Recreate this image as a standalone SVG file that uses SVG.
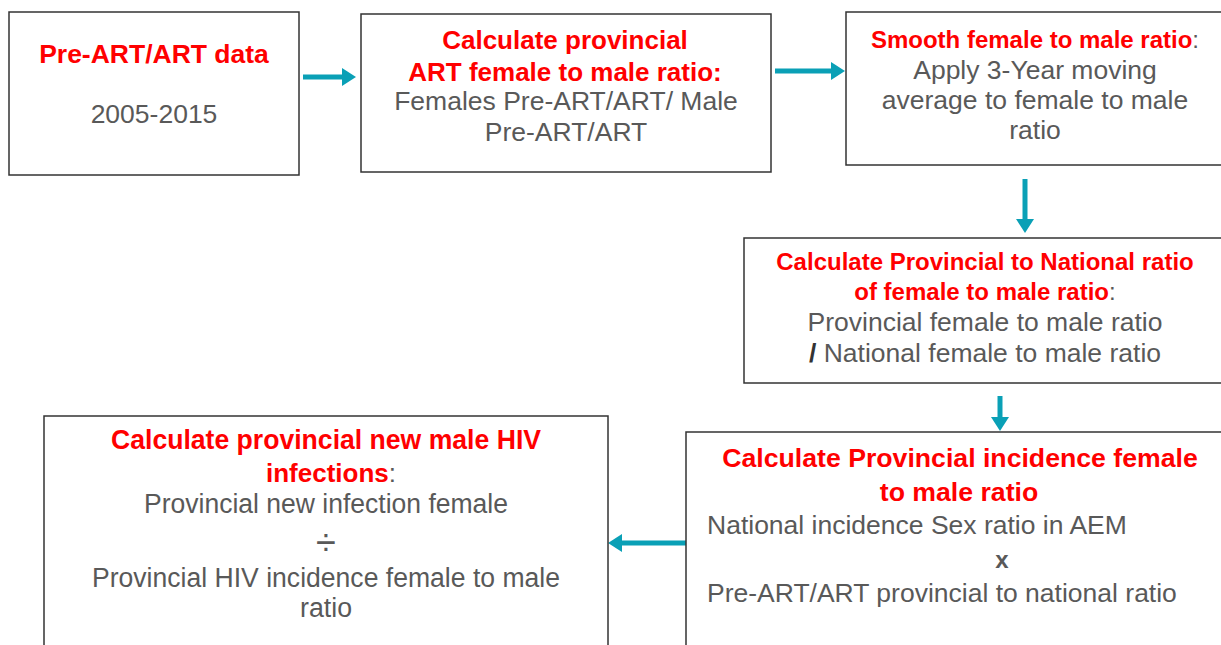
<svg xmlns="http://www.w3.org/2000/svg" width="1221" height="645" viewBox="0 0 1221 645">
<style>
  .box { fill: #ffffff; stroke: #333333; stroke-width: 1.5; }
  .t { font-family: "Liberation Sans", Arial, sans-serif; }
  .red { fill: #ff0000; font-weight: bold; }
  .gray { fill: #595959; }
  .c { text-anchor: middle; }
  .conn { stroke: #0aa0b6; stroke-width: 5; fill: none; marker-end: url(#ah); }
</style>
<defs>
  <marker id="ah" markerWidth="14" markerHeight="18" refX="6" refY="9" orient="auto" markerUnits="userSpaceOnUse">
    <path d="M0,0 L14,9 L0,18 z" fill="#0aa0b6"/>
  </marker>
</defs>
<rect x="0" y="0" width="1221" height="645" fill="#ffffff"/>

<g id="connectors">
  <line class="conn" x1="303" y1="77" x2="348" y2="77"/>
  <line class="conn" x1="775" y1="71" x2="837" y2="71"/>
  <line class="conn" x1="1025" y1="179" x2="1025" y2="225"/>
  <line class="conn" x1="1000" y1="396" x2="1000" y2="423"/>
  <line class="conn" x1="686" y1="543" x2="616" y2="543"/>
</g>

<g id="node1">
  <rect class="box" x="9" y="12" width="290" height="163"/>
  <text class="t red c" x="154" y="63" font-size="26.5">Pre-ART/ART data</text>
  <text class="t gray c" x="154" y="123" font-size="26.5">2005-2015</text>
</g>

<g id="node2">
  <rect class="box" x="361" y="14" width="410" height="158"/>
  <text class="t red c" x="565" y="49" font-size="26">Calculate provincial</text>
  <text class="t red c" x="565" y="81" font-size="26">ART female to male ratio:</text>
  <text class="t gray c" x="566" y="110" font-size="26.5">Females Pre-ART/ART/ Male</text>
  <text class="t gray c" x="566" y="141" font-size="26.5">Pre-ART/ART</text>
</g>

<g id="node3">
  <rect class="box" x="846" y="12" width="390" height="153"/>
  <text class="t c" x="1035" y="48" font-size="24"><tspan class="red">Smooth female to male ratio</tspan><tspan class="gray">:</tspan></text>
  <text class="t gray c" x="1035" y="79" font-size="26.5">Apply 3-Year moving</text>
  <text class="t gray c" x="1035" y="109" font-size="26.5">average to female to male</text>
  <text class="t gray c" x="1035" y="139" font-size="26.5">ratio</text>
</g>

<g id="node4">
  <rect class="box" x="744" y="238" width="490" height="145"/>
  <text class="t red c" x="985" y="270" font-size="24">Calculate Provincial to National ratio</text>
  <text class="t c" x="985" y="300" font-size="24"><tspan class="red">of female to male ratio</tspan><tspan class="gray">:</tspan></text>
  <text class="t gray c" x="985" y="331" font-size="26.5">Provincial female to male ratio</text>
  <text class="t gray c" x="985" y="362" font-size="26.5"><tspan font-weight="bold" fill="#333333">/</tspan> National female to male ratio</text>
</g>

<g id="node5">
  <rect class="box" x="686" y="432" width="550" height="230"/>
  <text class="t red c" x="960" y="467" font-size="26.67">Calculate Provincial incidence female</text>
  <text class="t red c" x="959" y="501" font-size="26.67">to male ratio</text>
  <text class="t gray" x="707" y="534" font-size="26.5">National incidence Sex ratio in AEM</text>
  <text class="t gray c" x="1002" y="568" font-size="24" font-weight="bold">x</text>
  <text class="t gray" x="707" y="602" font-size="26.5">Pre-ART/ART provincial to national ratio</text>
</g>

<g id="node6">
  <rect class="box" x="44" y="416" width="564" height="245"/>
  <text class="t red c" x="326" y="449" font-size="27" textLength="430" lengthAdjust="spacingAndGlyphs">Calculate provincial new male HIV</text>
  <text class="t c" x="331" y="482" font-size="26"><tspan class="red">infections</tspan><tspan class="gray">:</tspan></text>
  <text class="t gray c" x="326" y="513" font-size="27" textLength="364" lengthAdjust="spacingAndGlyphs">Provincial new infection female</text>
  <text class="t gray c" x="326" y="555" font-size="36">÷</text>
  <text class="t gray c" x="326" y="587" font-size="27" textLength="468" lengthAdjust="spacingAndGlyphs">Provincial HIV incidence female to male</text>
  <text class="t gray c" x="326" y="617" font-size="27" textLength="52" lengthAdjust="spacingAndGlyphs">ratio</text>
</g>
</svg>
